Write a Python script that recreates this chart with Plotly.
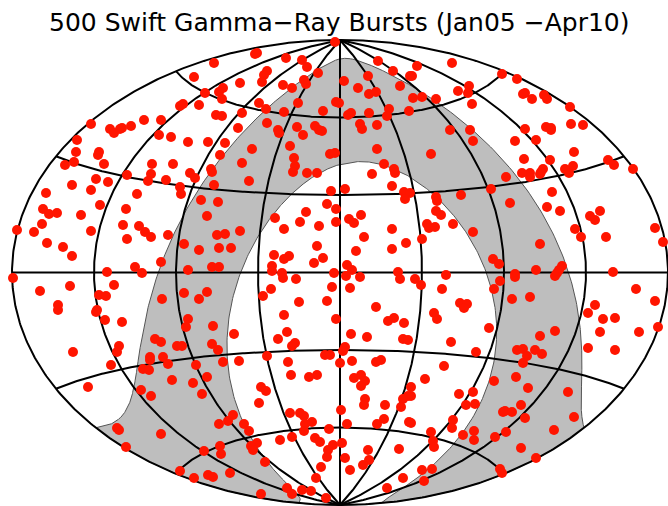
import numpy as np
import plotly.graph_objects as go

TITLE = "500 Swift Gamma\u2212Ray Bursts (Jan05 \u2212Apr10)"

# Burst positions, as (x, y) pairs in digitised chart units
# (x runs left to right, y runs top to bottom), grouped by sky region.
bursts_north_west = [
(91,124),(110,129),(114,133),(120,129),(122,128),(131,126),(144,120),(161,120),(159,135),(171,137),
(77,140),(76,152),(99,152),(98,155),(104,164),(74,162),(65,165),(152,164),
(335,42),(255,54),(257,53),(214,63),(286,58),(302,60),(307,67),(194,77),(318,73),(267,71),(264,75),
(262,82),(240,83),(223,88),(219,92),(222,99),(205,93),(283,85),(292,88),(304,80),(306,84),(180,106),
(183,104),(199,105),(259,103),(298,103),(336,102),(266,109),(242,113),(284,112),(323,111),(216,115),
(222,116),(267,123),(238,128),(278,130),(279,133),(297,127),(315,126),(319,130),(322,131),(303,135),
(188,142),(208,142),(225,143),(290,146),(252,149),(220,155),(294,158),(330,154),(335,153),(173,164),
(242,163),(295,166),(293,172),
]
bursts_north_east = [
(378,61),(393,71),(417,66),(452,63),(502,74),(410,76),(412,76),(368,76),(344,81),(358,88),(400,86),
(469,86),(458,91),(468,93),(369,94),(376,92),(413,98),(422,97),(436,99),(472,104),(339,103),(389,109),
(409,111),(351,113),(348,115),(369,113),(387,116),(360,124),(362,129),(377,125),(450,130),(470,130),
(473,141),(377,149),(431,154),(384,164),
(517,79),(525,93),(523,94),(532,99),(544,95),(547,99),(570,107),(571,124),(583,125),(525,129),(546,127),
(551,128),(551,130),(515,141),(536,140),(574,152),(524,159),(550,160),(573,166),(608,160),(614,165),
]
bursts_mid_west = [
(127,175),(151,174),(148,181),(166,180),(96,179),(108,182),(72,185),(91,190),(46,193),(137,194),
(100,205),(126,209),(43,209),(49,214),(57,213),(81,215),(123,225),(139,226),(42,224),(17,230),(34,232),
(91,231),(145,232),(151,237),(127,239),(47,243),(63,247),(72,256),(161,262),(135,267),(142,273),
(107,272),(13,278),(114,285),(70,286),(40,291),(99,295),(106,296),(162,299),(58,305),(58,310),(97,310),
(96,312),(105,320),(122,322),
(211,169),(212,172),(307,173),(317,173),(190,173),(195,178),(249,181),(214,185),(180,187),(181,194),
(201,200),(218,202),(331,191),(327,204),(207,216),(336,209),(306,212),(275,218),(300,222),(319,226),
(336,222),(284,229),(240,231),(225,234),(217,235),(184,244),(199,250),(219,248),(231,248),(317,246),
(274,255),(289,256),(284,259),(323,258),(314,263),(272,266),(272,271),(212,267),(219,267),(188,270),
(282,273),(283,278),(296,279),(334,273),(332,287),(271,289),(207,292),(184,293),(199,299),(263,296),
(299,302),(327,301),(284,315),(188,319),(336,319),(168,235),
]
bursts_mid_east = [
(394,169),(395,173),(372,174),(392,186),(345,189),(404,192),(410,193),(405,199),(436,197),(437,201),
(461,195),(491,189),(506,177),(361,215),(436,211),(441,215),(349,219),(354,223),(427,224),(429,228),
(435,227),(453,224),(392,229),(473,232),(364,237),(422,239),(406,243),(392,249),(356,251),(493,259),
(499,264),(347,265),(352,270),(398,272),(446,275),(346,276),(360,277),(400,279),(415,279),(500,281),
(421,285),(494,289),(442,289),(350,288),(460,303),(467,304),(464,308),(376,307),(434,313),(394,318),
(388,321),(437,319),
(565,169),(569,173),(543,169),(540,174),(541,172),(530,173),(530,177),(522,173),(633,169),(552,192),
(510,203),(547,207),(560,211),(600,211),(590,216),(595,220),(575,229),(655,228),(581,237),(606,237),
(663,242),(540,244),(562,266),(559,270),(557,273),(555,276),(536,270),(515,274),(515,277),(613,272),
(636,289),(530,297),(512,299),(655,301),(595,305),(588,313),(603,319),(615,318),
]
bursts_south_west = [
(73,352),(119,346),(117,352),(111,365),(155,339),(161,342),(150,357),(150,360),(163,357),(168,364),
(143,369),(149,370),(88,387),(141,390),(151,396),(172,380),(117,428),(119,430),(161,434),(126,447),
(186,327),(213,326),(234,334),(287,332),(278,339),(295,343),(292,346),(212,344),(177,346),(182,346),
(218,350),(325,355),(330,355),(267,356),(239,361),(223,362),(288,362),(196,365),(291,375),(317,375),
(309,377),(207,377),(193,383),(261,387),(266,391),(202,394),(259,403),(290,413),(300,413),(304,416),
(233,415),(228,421),(219,424),(244,424),(312,422),(305,424),(249,431),(304,431),(329,429),(280,440),
(292,437),(315,438),(320,442),(257,443),(251,446),(253,450),(220,446),(204,451),(221,454),(333,445),
(328,450),(327,457),(265,462),(321,467),(180,471),(230,473),(208,475),(213,477),(194,478),(316,478),
(287,488),(292,494),(302,490),(311,491),(261,494),(326,498),
]
bursts_south_east = [
(404,323),(489,328),(351,334),(367,337),(403,339),(408,340),(451,342),(345,347),(343,351),(476,352),
(352,361),(340,363),(376,362),(381,360),(444,366),(354,378),(361,375),(365,381),(361,386),(425,379),
(494,381),(411,387),(473,392),(459,394),(411,396),(408,396),(403,399),(365,399),(364,405),(385,405),
(401,407),(466,405),(475,404),(341,410),(503,412),(384,419),(377,424),(347,424),(409,422),(411,423),
(453,420),(452,428),(431,432),(474,431),(463,435),(474,440),(495,437),(433,441),(434,447),(342,443),
(399,449),(368,450),(345,458),(369,460),(363,465),(350,470),(422,470),(432,469),(403,478),(424,481),
(387,488),(500,469),(502,473),
(658,327),(555,331),(540,336),(600,332),(639,332),(517,350),(523,349),(535,350),(527,356),(542,354),
(588,348),(615,350),(523,363),(516,377),(528,388),(568,392),(521,405),(505,411),(512,412),(525,418),
(574,417),(554,430),(506,432),(521,448),(536,458),
]
burst_pairs = (bursts_north_west + bursts_north_east + bursts_mid_west +
               bursts_mid_east + bursts_south_west + bursts_south_east)
burst_x = [p[0] for p in burst_pairs]
burst_y = [p[1] for p in burst_pairs]

GRID_LONS = [-135, -90, -45, 0, 45, 90, 135]
GRID_LATS = [-60, -30, 0, 30, 60]

POLE_LON, POLE_LAT = 12.86, -27.13   # south galactic pole
BAND_RADII = [110.0, 70.0]           # |b| < 20 deg
CX, CY, SEMI_X, SEMI_Y = 340.0, 272.5, 328.0, 232.5


def aitoff(lon, lat):
    lam = np.radians(np.asarray(lon, float))
    phi = np.radians(np.asarray(lat, float))
    alpha = np.arccos(np.clip(np.cos(phi) * np.cos(lam / 2), -1, 1))
    s = np.sinc(alpha / np.pi)
    return (CX + 2 * np.cos(phi) * np.sin(lam / 2) / s * SEMI_X / np.pi,
            CY - np.sin(phi) / s * SEMI_Y / (np.pi / 2))


def cap_outline(radius):
    lons = np.linspace(-180, 180, 721)
    lats = np.linspace(-90, 90, 3601)
    L, P = np.meshgrid(lons, lats, indexing="ij")
    d = (np.sin(np.radians(P)) * np.sin(np.radians(POLE_LAT)) +
         np.cos(np.radians(P)) * np.cos(np.radians(POLE_LAT)) * np.cos(np.radians(L - POLE_LON)))
    inside = d > np.cos(np.radians(radius))
    top = lats[inside.shape[1] - 1 - np.argmax(inside[:, ::-1], axis=1)]
    plon = np.concatenate([lons, np.full(60, 180.0), np.full(60, -180.0)])
    plat = np.concatenate([top, np.linspace(top[-1], -90, 60), np.linspace(-90, top[0], 60)])
    return aitoff(plon, plat)


fig = go.Figure()

for r, col in zip(BAND_RADII, ["#bebebe", "#ffffff"]):
    bx, by = cap_outline(r)
    fig.add_trace(go.Scatter(x=bx, y=by, mode="lines", fill="toself", fillcolor=col,
                             line=dict(color="#555555", width=1), hoverinfo="skip"))

gx, gy = [], []
for lon in GRID_LONS + [-180, 180]:
    a, b = aitoff(np.full(361, lon), np.linspace(-90, 90, 361))
    gx += list(a) + [None]
    gy += list(b) + [None]
for lat in GRID_LATS:
    a, b = aitoff(np.linspace(-180, 180, 361), np.full(361, lat))
    gx += list(a) + [None]
    gy += list(b) + [None]
fig.add_trace(go.Scatter(x=gx, y=gy, mode="lines", line=dict(color="black", width=2),
                         hoverinfo="skip", cliponaxis=True))

fig.add_trace(go.Scatter(x=burst_x, y=burst_y, mode="markers",
                         marker=dict(color="#ff1500", size=10, line=dict(width=0)),
                         cliponaxis=False))

fig.update_layout(
    width=668, height=506, margin=dict(l=0, r=0, t=0, b=0),
    paper_bgcolor="white", plot_bgcolor="white", showlegend=False,
    xaxis=dict(range=[0, 668], visible=False, fixedrange=True),
    yaxis=dict(range=[506, 0], visible=False, fixedrange=True),
    annotations=[dict(text=TITLE, x=339 / 668, y=1 - 23 / 506, xref="paper", yref="paper",
                      xanchor="center", yanchor="middle", showarrow=False,
                      font=dict(family="DejaVu Sans", size=25, color="black"))],
)
fig.write_html("out.html", config={"displayModeBar": False},
               post_script="document.body.style.margin='0';")
